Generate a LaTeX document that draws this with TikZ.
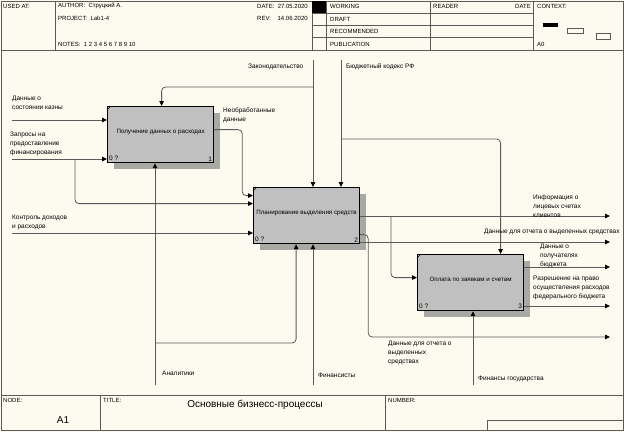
\documentclass[tikz,border=0pt]{standalone}
\usepackage{fontspec}
\setmainfont{Liberation Sans}
\usetikzlibrary{arrows.meta, shadows}

\definecolor{paper}{HTML}{FDFBF0}
\definecolor{boxgray}{HTML}{C0C0C0}
\definecolor{shadowgray}{HTML}{A8A8A4}
\definecolor{linegray}{HTML}{5A5A5A}

\begin{document}
\begin{tikzpicture}[
    x=1pt, y=-1pt,
    func/.style      = {rectangle, draw=black, line width=1.2pt, fill=boxgray, minimum width=106pt, minimum height=56pt, inner sep=2pt, text depth=6pt, font=\fontsize{6.2}{8}\selectfont, drop shadow={shadow xshift=6pt, shadow yshift=-6pt, fill=shadowgray, opacity=1}},
    corner/.style    = {inner sep=2pt, font=\fontsize{6.5}{8}\selectfont},
    lbl/.style       = {anchor=north west, align=left, inner sep=0pt, font=\fontsize{6.5}{8.8}\selectfont},
    frametext/.style = {anchor=west, inner sep=0pt, font=\fontsize{6}{7}\selectfont},
    frame/.style     = {draw=linegray, line width=0.8pt},
    flow/.style      = {draw=linegray, line width=0.8pt, rounded corners=4pt, -{Triangle[length=5pt, width=4.5pt, color=black]}}
]

\fill[paper] (0,0) rectangle (624,432);
\useasboundingbox (0,0) rectangle (624,432);

% --- Рамка: шапка ---
\draw[frame] (1,1) rectangle (623,50);
\foreach \x in {55,312,326,430,533} \draw[frame] (\x,1) -- (\x,50);
\foreach \y in {13,25,37} \draw[frame] (312,\y) -- (533,\y);
\fill[black] (312,1) rectangle (326,13);
\node[frametext] (usedat)  at (3,6)   {USED AT:};
\node[frametext] (author)  at (58,6)  {AUTHOR:\ \ Струцкий А.};
\node[frametext] (project) at (58,18) {PROJECT:\ \ Lab1-4};
\node[frametext] (notes)   at (58,44) {NOTES:\ \ 1\ 2\ 3\ 4\ 5\ 6\ 7\ 8\ 9\ 10};
\node[frametext] (date)    at (257,6)  {DATE:\ \ 27.05.2020};
\node[frametext] (rev)     at (257,18) {REV:\ \ \ \ 14.06.2020};
\node[frametext] (working) at (330,6)  {WORKING};
\node[frametext] (draft)   at (330,19) {DRAFT};
\node[frametext] (recomm)  at (330,31) {RECOMMENDED};
\node[frametext] (publ)    at (330,44) {PUBLICATION};
\node[frametext] (reader)  at (433,6)  {READER};
\node[frametext, anchor=east] (rdate) at (531,6) {DATE};
\node[frametext] (context) at (537,6)  {CONTEXT:};
\node[frametext] (ctxnode) at (537,44) {A0};
\fill[black] (543,23) rectangle (558,27);
\draw[frame, line width=0.6pt] (567,28) rectangle (583,33);
\draw[frame, line width=0.6pt] (596,33) rectangle (610,39);

% --- Рамка: поле и подвал ---
\draw[frame] (1,50) -- (1,395);
\draw[frame] (623,50) -- (623,395);
\draw[frame] (1,395) rectangle (623,430);
\foreach \x in {100,385} \draw[frame] (\x,395) -- (\x,430);
\draw[frame] (487,420) rectangle (623,430);
\node[frametext] (nodelbl)  at (3,400)   {NODE:};
\node[frametext] (titlelbl) at (103,400) {TITLE:};
\node[frametext] (numlbl)   at (388,400) {NUMBER:};
\node[inner sep=0pt, font=\fontsize{10}{12}\selectfont] (nodeid) at (63,420) {A1};
\node[inner sep=0pt, font=\fontsize{10}{12}\selectfont] (title)  at (255,405) {Основные бизнесс-процессы};

% --- Функциональные блоки ---
\node[func, anchor=north west] (b1) at (107,106) {Получение данных о расходах};
\node[func, anchor=north west] (b2) at (253,187) {Планирование выделения средств};
\node[func, anchor=north west] (b3) at (417,254) {Оплата по заявкам и счетам};

\foreach \b/\n in {b1/1, b2/2, b3/3} {
  \node[corner, anchor=south west] (\b cost) at (\b.south west) {0 ?};
  \node[corner, anchor=south east] (\b num)  at (\b.south east) {\n};
  \draw[black, line width=0.6pt] ([yshift=-4pt]\b.north west) -- ([xshift=4pt]\b.north west);
}

% --- Граничные точки ---
\coordinate (in1)   at (12,120);
\coordinate (in2)   at (12,159);
\coordinate (in3)   at (12,233);
\coordinate (ctl1)  at (313,60);
\coordinate (ctl2)  at (341,60);
\coordinate (mech1) at (155,385);
\coordinate (mech2) at (313,385);
\coordinate (mech3) at (473,385);
\coordinate (out1)  at (610,216);
\coordinate (out2)  at (610,242);
\coordinate (out3)  at (610,337);
\coordinate (out4)  at (610,267);
\coordinate (out5)  at (610,306);

% --- Ответвления ---
\coordinate (jin2)  at (75,159);
\coordinate (jctl1) at (313,87);
\coordinate (jctl2) at (341,139);
\coordinate (jmech) at (155,343);
\coordinate (jout1) at (391,216);

% --- Входы ---
\draw[flow] (in1) -- (in1 -| b1.west);
\draw[flow] (in2) -- (in2 -| b1.west);
\draw[flow] (jin2) |- ([yshift=12pt]b2.west);
\draw[flow] (in3) -- (in3 -| b2.west);
\draw[flow] ([yshift=5pt]b1.east) -- ++(28,0) |- ([yshift=20pt]b2.west);
\draw[flow] (jout1) |- ([yshift=5pt]b3.west);

% --- Управление ---
\draw[flow] (ctl1) -- (ctl1 |- b2.north);
\draw[flow] (jctl1) -| ([xshift=1pt]b1.north);
\draw[flow] (ctl2) -- (ctl2 |- b2.north);
\draw[flow] (jctl2) -| ([xshift=30pt]b3.north);

% --- Механизмы ---
\draw[flow] (mech1) -- (mech1 |- b1.south);
\draw[flow] (jmech) -| ([xshift=-10.5pt]b2.south);
\draw[flow] (mech2) -- (mech2 |- b2.south);
\draw[flow] (mech3) -- (mech3 |- b3.south);

% --- Выходы ---
\draw[flow] (b2.east |- out1) -- (out1);
\draw[flow] (b2.east |- out2) -- (out2);
\draw[flow] ([yshift=-19pt]b2.east) -- ++(8,0) |- (out3);
\draw[flow] (b3.east |- out4) -- (out4);
\draw[flow] (b3.east |- out5) -- (out5);

% --- Подписи стрелок ---
\node[lbl] (t_in1)   at (12,96)   {Данные о\\состоянии казны};
\node[lbl] (t_in2)   at (10,132)  {Запросы на\\предоставление\\финансирования};
\node[lbl] (t_in3)   at (12,215)  {Контроль доходов\\и расходов};
\node[lbl] (t_raw)   at (223,108) {Необработанные\\данные};
\node[lbl] (t_ctl1)  at (248,64)  {Законодательство};
\node[lbl] (t_ctl2)  at (346,63)  {Бюджетный кодекс РФ};
\node[lbl] (t_mech1) at (162,371) {Аналитики};
\node[lbl] (t_mech2) at (318,373) {Финансисты};
\node[lbl] (t_mech3) at (478,376) {Финансы государства};
\node[lbl] (t_out1)  at (533,195) {Информация о\\лицевых счетах\\клиентов};
\node[lbl] (t_out2)  at (484,229) {Данные для отчета о выделенных средствах};
\node[lbl] (t_out3)  at (388,341) {Данные для отчета о\\выделенных\\средствах};
\node[lbl] (t_out4)  at (540,244) {Данные о\\получателях\\бюджета};
\node[lbl] (t_out5)  at (533,276) {Разрешение на право\\осуществления расходов\\федерального бюджета};

\end{tikzpicture}
\end{document}
